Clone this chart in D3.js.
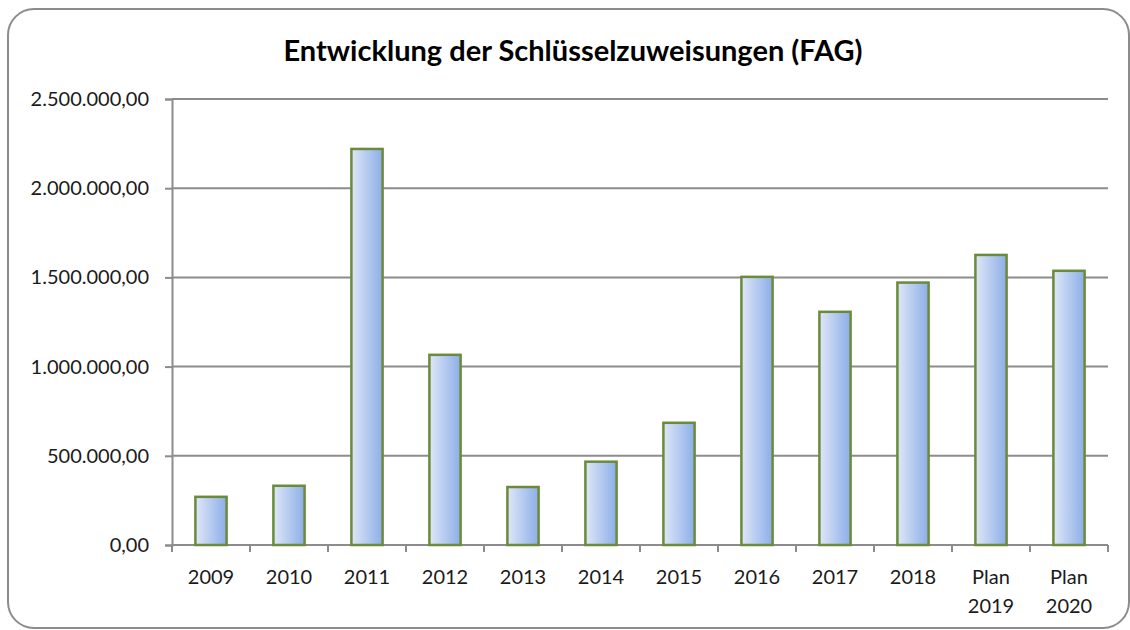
<!DOCTYPE html>
<html>
<head>
<meta charset="utf-8">
<script src="https://cdn.jsdelivr.net/npm/d3@7"></script>
<style>
  body { margin: 0; background: #fff; }
  svg { display: block; font-family: Lato, "Open Sans", sans-serif; }
</style>
</head>
<body>
<svg id="chart" width="1130" height="630"></svg>
<script>
(function () {
  "use strict";

  // data
  const categories = ["2009", "2010", "2011", "2012", "2013", "2014", "2015",
                      "2016", "2017", "2018", "Plan 2019", "Plan 2020"]
  const values = [270000, 332000, 2220000, 1066000, 325000, 467000, 685000,
                  1503000, 1307000, 1471000, 1626000, 1537000]
  const yTicks = [0, 500000, 1000000, 1500000, 2000000, 2500000]
  const title = "Entwicklung der Schlüsselzuweisungen (FAG)"

  let svg = d3.select("#chart")
  const left = 172, right = 1108, top = 99, bottom = 545

  const de = d3.formatLocale({ decimal: ",", thousands: ".", grouping: [3], currency: ["", " €"] })
  const fmt = de.format(",.2f")

  // outer frame
  svg.append("rect")
    .attr("x", 8).attr("y", 9)
    .attr("width", 1121).attr("height", 619)
    .attr("rx", 26).attr("ry", 26)
    .attr("fill", "#fff")
    .attr("stroke", "#8c8c8c")
    .attr("stroke-width", 2)

  let defs = svg.append("defs")
  let grad = defs.append("linearGradient").attr("id", "barGrad")
    .attr("x1", "0%").attr("x2", "100%").attr("y1", "0%").attr("y2", "0%")
  grad.append("stop").attr("offset", "0%").attr("stop-color", "#dfe7f7")
  grad.append("stop").attr("offset", "100%").attr("stop-color", "#8caee8")

  let x = d3.scaleBand().domain(categories).range([left, right])
    .paddingInner(0.6).paddingOuter(0.3)
  let y = d3.scaleLinear().domain([0, 2500000]).range([bottom, top])

  // gridlines
  svg.append("g")
    .selectAll("line")
    .data(yTicks.slice(1))
    .join("line")
    .attr("x1", left).attr("x2", right)
    .attr("y1", d => y(d)).attr("y2", d => y(d))
    .attr("stroke", "#8c8c8c")
    .attr("stroke-width", 2)

  // y axis
  let yAxis = svg.append("g")
    .attr("transform", `translate(${left},0)`)
    .call(d3.axisLeft(y).tickValues(yTicks).tickFormat(fmt).tickSize(7).tickPadding(16))
  yAxis.select(".domain").attr("stroke", "#8c8c8c").attr("stroke-width", 2)
  yAxis.selectAll(".tick line").attr("stroke", "#8c8c8c").attr("stroke-width", 2)
  yAxis.selectAll(".tick text")
    .attr("fill", "#1a1a1a")
    .style("font-size", "20px")
    .style("font-family", "Lato, 'Open Sans', sans-serif")

  // x axis: ticks at category boundaries
  const step = x.step()
  let xg = svg.append("g")
  xg.append("line")
    .attr("x1", left).attr("x2", right)
    .attr("y1", bottom).attr("y2", bottom)
    .attr("stroke", "#8c8c8c").attr("stroke-width", 2)
  xg.selectAll("line.tk")
    .data(d3.range(categories.length + 1))
    .join("line")
    .attr("class", "tk")
    .attr("x1", i => left + i * step).attr("x2", i => left + i * step)
    .attr("y1", bottom).attr("y2", bottom + 7)
    .attr("stroke", "#8c8c8c").attr("stroke-width", 2)

  let labels = xg.selectAll("text")
    .data(categories)
    .join("text")
    .attr("x", d => x(d) + x.bandwidth() / 2)
    .attr("y", 584)
    .attr("text-anchor", "middle")
    .attr("fill", "#1a1a1a")
    .style("font-size", "20px")
  labels.each(function (d) {
    let parts = d.split(" ")
    let t = d3.select(this)
    parts.forEach((p, i) => {
      t.append("tspan")
        .attr("x", x(d) + x.bandwidth() / 2)
        .attr("dy", i === 0 ? 0 : 29)
        .text(p)
    })
  })

  // bars
  svg.append("g")
    .selectAll("rect")
    .data(values)
    .join("rect")
    .attr("x", (d, i) => x(categories[i]))
    .attr("y", d => y(d))
    .attr("width", x.bandwidth())
    .attr("height", d => bottom - y(d))
    .attr("fill", "url(#barGrad)")
    .attr("stroke", "#6b8a3a")
    .attr("stroke-width", 2.5)

  // title
  svg.append("text")
    .attr("x", 573).attr("y", 61)
    .attr("text-anchor", "middle")
    .attr("fill", "#000")
    .style("font-size", "29px")
    .style("font-weight", "bold")
    .text(title)
})();
</script>
</body>
</html>
